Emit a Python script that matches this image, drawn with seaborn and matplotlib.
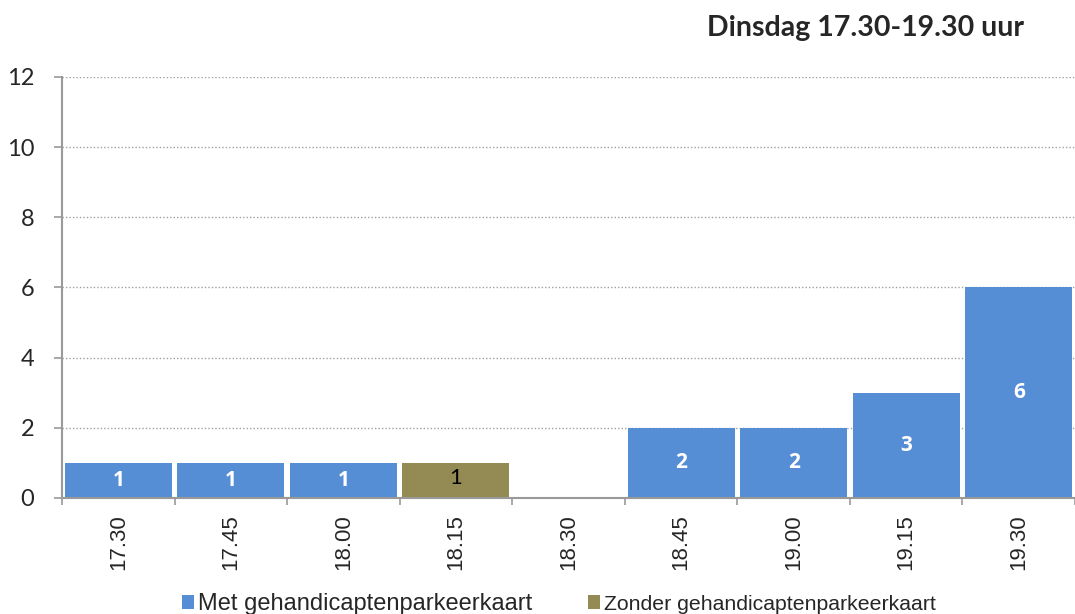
import matplotlib
matplotlib.use("Agg")
import matplotlib.pyplot as plt
import seaborn as sns
import pandas as pd
import numpy as np
from matplotlib.ticker import FixedLocator

categories = ["17.30", "17.45", "18.00", "18.15", "18.30", "18.45", "19.00", "19.15", "19.30"]
met = [1, 1, 1, 0, 0, 2, 2, 3, 6]
zonder = [0, 0, 0, 1, 0, 0, 0, 0, 0]
series_names = ["Met gehandicaptenparkeerkaart", "Zonder gehandicaptenparkeerkaart"]
title = "Dinsdag 17.30-19.30 uur"

sns.set_theme(style="white")
plt.rcParams['font.family'] = ['Liberation Sans', 'DejaVu Sans']

df = pd.DataFrame({
    "tijd": categories * 2,
    "aantal": met + zonder,
    "serie": [series_names[0]] * len(categories) + [series_names[1]] * len(categories),
})

colors = {series_names[0]: "#558ED5", series_names[1]: "#948A54"}

fig = plt.figure(figsize=(10.75, 6.14), dpi=100)
ax = fig.add_axes([0.0577, 0.189, 0.9423, 0.6856])

sns.barplot(data=df, x="tijd", y="aantal", hue="serie", order=categories,
            hue_order=series_names, palette=colors, dodge=False, width=0.95,
            saturation=1, ax=ax, legend=True, linewidth=0)

ax.set_xlim(-0.5, len(categories) - 0.5)
ax.set_ylim(0, 12)
ax.set_yticks(range(0, 13, 2))
ax.set_yticklabels([str(v) for v in range(0, 13, 2)], fontsize=17, family=['Lato', 'DejaVu Sans'])
ax.set_xticks(range(len(categories)))
ax.set_xticklabels(categories, rotation=90, fontsize=16, family=['Liberation Sans', 'DejaVu Sans'])
ax.xaxis.set_minor_locator(FixedLocator(np.arange(-0.5, len(categories), 1.0)))
ax.tick_params(axis='x', which='major', length=0, pad=12)
ax.tick_params(axis='x', which='minor', length=5, width=1.2, color='#999999', direction='out', bottom=True)
ax.tick_params(axis='y', which='major', length=6, width=1.2, color='#999999', direction='out', left=True, pad=14)
ax.set_xlabel("")
ax.set_ylabel("")

ax.yaxis.grid(True, linestyle=(0, (1, 1.5)), color='#A0A0A0', linewidth=1)
ax.set_axisbelow(True)
for s in ["top", "right"]:
    ax.spines[s].set_visible(False)
for s in ["left", "bottom"]:
    ax.spines[s].set_color("#999999")
    ax.spines[s].set_linewidth(1.5)

# value labels
for i, v in enumerate(met):
    if v > 0:
        ax.text(i, v / 2, str(v), ha='center', va='center', color='white',
                fontsize=15, fontweight='bold', family=['Open Sans', 'DejaVu Sans'])
for i, v in enumerate(zonder):
    if v > 0:
        ax.text(i, v / 2 + 0.06, str(v), ha='center', va='center', color='black',
                fontsize=16, family=['Lato', 'DejaVu Sans'])

leg = ax.legend(loc='center', bbox_to_anchor=(0.4906, -0.252), ncol=2,
                frameon=False, fontsize=17, handlelength=0.52, handleheight=0.52,
                handletextpad=0.17, columnspacing=2.37, borderaxespad=0, borderpad=0)
leg.get_texts()[1].set_fontsize(15.3)

fig.text(0.8047, 0.955, title, ha='center', va='center', fontsize=20.5,
         fontweight='bold', family=['Lato', 'DejaVu Sans'])

fig.savefig("out.png", dpi=100)
